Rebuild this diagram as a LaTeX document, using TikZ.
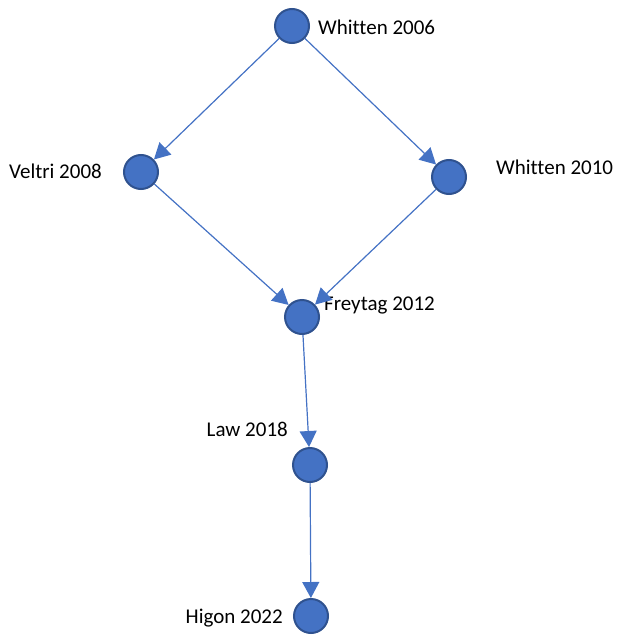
\documentclass[tikz,border=0pt]{standalone}
\usepackage{fontspec}
\setmainfont{Carlito}[Ligatures=NoCommon]
\usetikzlibrary{arrows.meta}
\begin{document}
\begin{tikzpicture}[x=1pt,y=-1pt,
  paper/.style={circle,fill=nodeblue,draw=nodeedge,line width=2pt,minimum size=34pt,inner sep=0pt},
  tag/.style={inner sep=0pt,font=\fontsize{21}{25}\selectfont},
  conn/.style={draw=linkblue,line width=1.2pt,-{Triangle[length=16pt,width=17pt]}}]
\definecolor{nodeblue}{HTML}{4472C4}
\definecolor{nodeedge}{HTML}{2F528F}
\definecolor{linkblue}{HTML}{4472C4}
\useasboundingbox (0,0) rectangle (617,637);
% papers
\node[paper] (w06) at (292,26) {};
\node[paper] (v08) at (141,172) {};
\node[paper] (w10) at (449,177) {};
\node[paper] (f12) at (302,317) {};
\node[paper] (l18) at (310,465) {};
\node[paper] (h22) at (311,616) {};
% labels
\node[tag,anchor=west] (tw06) at (318,27) {Whitten 2006};
\node[tag,anchor=east] (tv08) at (102,171) {Veltri 2008};
\node[tag,anchor=west] (tw10) at (496,167) {Whitten 2010};
\node[tag,anchor=west] (tf12) at (324,305) {Freytag 2012};
\node[tag,anchor=east] (tl18) at (288,429) {Law 2018};
\node[tag,anchor=east] (th22) at (283,618) {Higon 2022};
% citation links
\draw[conn] (w06) -- (v08);
\draw[conn] (w06) -- (w10);
\draw[conn] (v08) -- (f12);
\draw[conn] (w10) -- (f12);
\draw[conn] (f12) -- (l18);
\draw[conn] (l18) -- (h22);
\end{tikzpicture}
\end{document}
